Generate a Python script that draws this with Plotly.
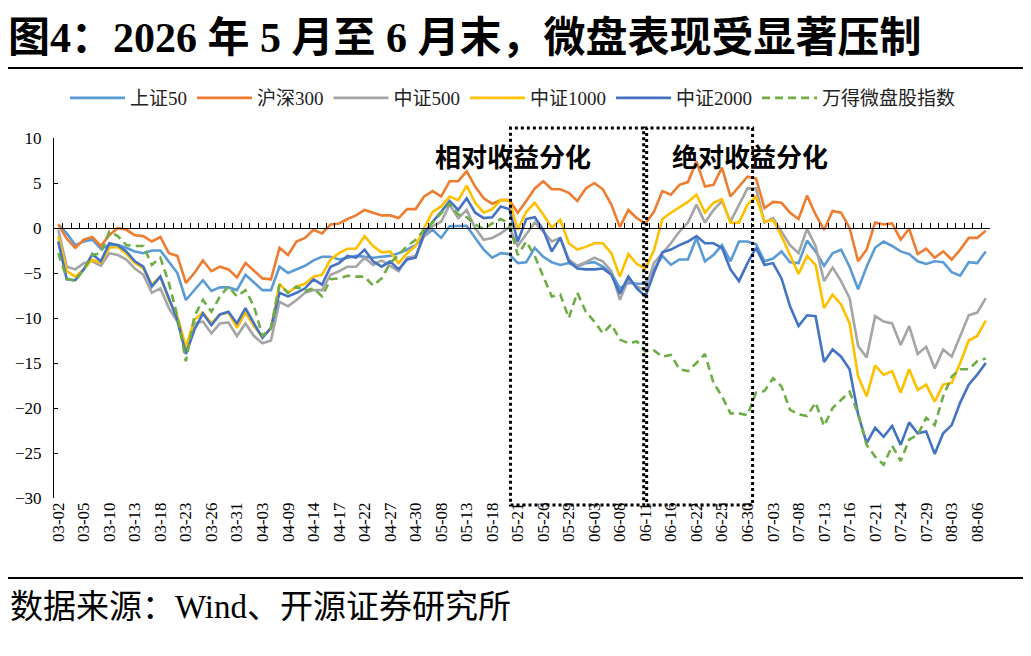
import plotly.graph_objects as go

# Trading days, 2026-03-02 to 2026-08-07
dates = [
    "03-02", "03-03", "03-04", "03-05", "03-06", "03-09", "03-10", "03-11", "03-12", "03-13",
    "03-16", "03-17", "03-18", "03-19", "03-20", "03-23", "03-24", "03-25", "03-26", "03-27",
    "03-30", "03-31", "04-01", "04-02", "04-03", "04-07", "04-08", "04-09", "04-10", "04-13",
    "04-14", "04-15", "04-16", "04-17", "04-20", "04-21", "04-22", "04-23", "04-24", "04-27",
    "04-28", "04-29", "04-30", "05-06", "05-07", "05-08", "05-11", "05-12", "05-13", "05-14",
    "05-15", "05-18", "05-19", "05-20", "05-21", "05-22", "05-25", "05-26", "05-27", "05-28",
    "05-29", "06-01", "06-02", "06-03", "06-04", "06-05", "06-08", "06-09", "06-10", "06-11",
    "06-12", "06-15", "06-16", "06-17", "06-18", "06-22", "06-23", "06-24", "06-25", "06-26",
    "06-29", "06-30", "07-01", "07-02", "07-03", "07-06", "07-07", "07-08", "07-09", "07-10",
    "07-13", "07-14", "07-15", "07-16", "07-17", "07-20", "07-21", "07-22", "07-23", "07-24",
    "07-27", "07-28", "07-29", "07-30", "07-31", "08-03", "08-04", "08-05", "08-06", "08-07",
]
tick_labels = dates[::3]

sz50 = [
    0.4, -0.6, -1.9, -1.5, -1.3, -2.3, -1.9, -1.9, -2.2, -2.6,
    -2.8, -2.5, -2.5, -3.7, -5.0, -8.0, -6.9, -5.8, -7.0, -6.6,
    -6.6, -6.9, -5.2, -6.1, -6.9, -6.9, -4.3, -5.0, -4.6, -4.2,
    -3.6, -3.2, -3.2, -3.5, -3.3, -3.1, -3.2, -3.3, -3.2, -3.1,
    -2.8, -2.4, -1.9, -0.9, -0.2, -1.1, 0.2, 0.25, 0.25, -1.1,
    -2.4, -3.3, -2.8, -2.9, -3.9, -3.8, -2.2, -3.2, -3.8, -4.1,
    -3.9, -4.3, -3.9, -3.8, -4.3, -5.0, -6.7, -6.1, -6.2, -6.2,
    -4.6, -3.1, -4.1, -3.5, -3.5, -1.1, -3.7, -3.0, -1.9, -3.7,
    -1.5, -1.5, -1.8, -3.7, -3.4, -2.6, -3.8, -3.9, -1.4, -2.6,
    -4.2, -2.8, -2.4, -4.3, -6.8, -4.3, -2.2, -1.5, -2.0, -2.6,
    -2.9, -3.7, -4.0, -3.7, -3.8, -4.9, -5.3, -3.8, -3.9, -2.6,
]
hs300 = [
    0.4, -1.2, -2.2, -1.3, -1.0, -2.0, -0.8, 0.0, -0.2, -0.8,
    -0.9, -1.5, -1.0, -2.8, -3.1, -6.1, -5.0, -3.6, -4.8, -4.3,
    -4.6, -5.5, -3.9, -4.8, -5.6, -5.7, -2.2, -3.0, -1.5, -1.1,
    -0.2, -0.6, 0.4, 0.5, 1.0, 1.4, 2.0, 1.7, 1.4, 1.4,
    1.1, 2.1, 2.1, 3.5, 4.1, 3.5, 5.2, 5.2, 6.3, 4.6,
    3.3, 2.7, 3.1, 3.1, 1.7, 3.0, 4.4, 5.2, 4.3, 4.3,
    3.9, 3.0, 4.4, 5.0, 4.3, 2.6, 0.1, 2.0, 1.1, 0.5,
    1.8, 4.1, 3.7, 4.8, 5.1, 7.4, 4.6, 4.8, 6.7, 3.5,
    4.6, 5.7, 5.5, 2.2, 2.9, 2.8, 1.7, 1.0, 3.6, 1.5,
    -0.2, 1.9, 1.7, 0.0, -3.7, -2.4, 0.6, 0.4, 0.5, -1.3,
    -0.1, -2.9, -2.3, -3.3, -2.6, -3.5, -2.4, -1.1, -1.1, -0.3,
]
zz500 = [
    -0.2, -4.3, -4.6, -3.9, -3.7, -4.2, -2.8, -3.0, -3.5, -4.5,
    -5.2, -7.2, -6.7, -8.9, -10.4, -13.7, -10.6, -10.4, -11.7, -10.6,
    -10.5, -12.0, -10.6, -12.0, -12.8, -12.5, -8.2, -8.7, -8.0, -7.2,
    -6.9, -6.9, -5.2, -4.8, -4.3, -4.3, -3.3, -4.1, -3.6, -4.2,
    -4.8, -3.3, -3.1, -0.9, 0.2, 0.7, 2.6, 1.1, 2.0, 0.0,
    -1.3, -1.1, -0.6, 0.1, -2.0, -0.7, 0.6, -0.4, -1.5, -1.1,
    -3.5, -4.2, -3.8, -3.3, -3.7, -4.8, -8.0, -5.7, -6.5, -6.9,
    -3.9, -2.8, -1.7, -0.4, 0.6, 2.6, 0.6, 2.0, 3.0, 0.7,
    2.6, 4.4, 4.4, 0.6, 1.1, -0.4, -1.9, -2.8, -0.1, -2.0,
    -5.9, -4.4, -5.9, -7.8, -13.1, -14.4, -9.8, -10.4, -10.6, -13.0,
    -10.9, -14.0, -13.2, -15.6, -13.5, -14.3, -12.0, -9.7, -9.4, -7.8,
]
zz1000 = [
    -0.9, -4.8, -5.4, -4.6, -3.5, -3.9, -2.2, -2.1, -2.9, -3.9,
    -4.5, -6.3, -5.4, -8.0, -9.8, -13.2, -10.2, -9.4, -10.6, -9.6,
    -9.4, -11.1, -9.4, -10.9, -12.1, -11.2, -6.2, -7.2, -6.5, -6.2,
    -5.4, -5.2, -3.5, -2.8, -2.3, -2.3, -0.9, -2.0, -2.7, -2.6,
    -3.9, -2.8, -2.0, 0.0, 1.8, 2.4, 3.5, 3.1, 4.7, 2.8,
    1.7, 2.1, 3.1, 3.1, -0.2, 1.8, 2.8, 1.5, 0.0, 0.9,
    -1.7, -2.4, -2.1, -1.7, -1.7, -2.8, -5.4, -2.9, -4.0, -4.5,
    -2.5, 1.0, 1.7, 2.3, 2.9, 3.7, 1.7, 2.8, 3.2, 0.6,
    0.6, 2.6, 3.5, 0.7, 0.9, -0.9, -3.0, -5.1, -3.1, -4.1,
    -8.9, -7.4, -8.5, -10.6, -16.5, -18.7, -15.3, -16.3, -15.9, -18.3,
    -15.7, -18.0, -17.4, -19.3, -17.4, -17.2, -15.0, -12.5, -12.0, -10.3,
]
zz2000 = [
    -1.5, -5.7, -5.8, -4.6, -2.9, -3.7, -1.7, -1.9, -2.6, -3.7,
    -4.3, -6.5, -5.4, -7.8, -10.2, -14.0, -11.3, -9.5, -10.8, -9.6,
    -9.3, -10.6, -8.9, -10.6, -12.2, -11.1, -7.2, -7.6, -7.2, -6.7,
    -5.7, -6.3, -4.3, -3.9, -3.1, -3.3, -2.4, -3.7, -4.3, -3.7,
    -4.6, -3.5, -3.3, -0.6, 0.7, 1.8, 3.0, 2.0, 3.3, 1.7,
    1.1, 1.2, 2.4, 2.1, -1.5, 1.0, 1.2, -0.2, -2.6, -1.1,
    -3.7, -4.5, -4.6, -4.6, -4.5, -5.2, -7.3, -5.4, -6.7, -7.6,
    -5.0, -2.7, -2.4, -1.9, -1.5, -0.9, -1.7, -1.7, -2.2, -4.6,
    -5.9, -3.9, -2.2, -4.1, -3.9, -5.6, -8.7, -10.9, -9.7, -9.8,
    -14.9, -13.5, -14.3, -15.7, -20.7, -23.9, -22.2, -23.2, -22.0, -24.1,
    -21.6, -22.8, -22.6, -25.1, -22.8, -21.9, -19.4, -17.4, -16.3, -15.0,
]
micro = [
    -2.8, -5.6, -5.9, -4.6, -3.0, -2.8, -0.4, -0.9, -1.9, -2.0,
    -2.0, -4.1, -3.3, -6.1, -9.8, -14.8, -9.8, -8.0, -9.3, -7.6,
    -6.5, -7.6, -6.9, -8.7, -12.0, -11.1, -6.3, -7.2, -6.5, -7.0,
    -6.7, -7.6, -5.7, -5.6, -5.3, -5.4, -5.4, -6.4, -5.6, -3.9,
    -3.0, -2.0, -1.3, -0.2, 0.6, 1.7, 2.7, 1.5, 1.2, 0.4,
    -0.1, 0.5, 1.0, 0.5, -3.0, -1.5, -3.1, -5.4, -7.6, -7.4,
    -10.0, -7.2, -9.3, -10.4, -11.7, -10.7, -12.4, -12.8, -12.6, -13.7,
    -13.6, -14.3, -14.1, -15.7, -15.9, -15.0, -14.0, -17.2, -18.7, -20.6,
    -20.6, -20.8, -18.3, -18.1, -16.7, -17.6, -20.2, -20.7, -20.9, -19.4,
    -22.0, -20.0, -19.1, -18.2, -20.6, -24.1, -25.4, -26.3, -24.2, -25.9,
    -23.5, -23.0, -21.1, -21.9, -18.7, -16.5, -15.7, -15.7, -14.8, -14.5,
]

series = [
    ("上证50", sz50, "#5B9BD5", "solid"),
    ("沪深300", hs300, "#ED7D31", "solid"),
    ("中证500", zz500, "#A5A5A5", "solid"),
    ("中证1000", zz1000, "#FFC000", "solid"),
    ("中证2000", zz2000, "#4472C4", "solid"),
    ("万得微盘股指数", micro, "#70AD47", "8px,5px"),
]

# page geometry in px; the page body adds an 8px margin round the figure
PAGE_W, PAGE_H, OFF = 1031, 656, 8
PLOT_L, PLOT_R, PLOT_T, PLOT_B = 54, 990, 138, 498

def px2x(px):
    return (px - PLOT_L) / (PLOT_R - PLOT_L)

def px2y(py):
    return (PLOT_B - py) / (PLOT_B - PLOT_T)

FONT = "Liberation Serif, Noto Sans CJK SC"

n = len(dates)
xmin, xmax = -0.5, n - 0.5

fig = go.Figure()
for name, vals, color, dash in series:
    fig.add_trace(go.Scatter(
        x=dates, y=vals, name=name, mode="lines",
        line=dict(color=color, width=2.6, dash=dash),
    ))

# invisible trace so the zero-line axis gets drawn
fig.add_trace(go.Scatter(x=[0], y=[0], xaxis="x2", mode="markers",
                         marker=dict(opacity=0), showlegend=False, hoverinfo="skip"))

# dotted boxes (index units)
boxes = [(53.15, 68.8), (69.15, 81.6)]
for a, b in boxes:
    fig.add_shape(type="rect", xref="x domain", yref="y domain",
                  x0=(a - xmin) / (xmax - xmin), x1=(b - xmin) / (xmax - xmin),
                  y0=px2y(505), y1=px2y(128),
                  line=dict(color="black", width=3, dash="dot"))

# rules above and below the chart
for py in (68, 578):
    fig.add_shape(type="line", xref="paper", yref="paper",
                  x0=px2x(OFF), x1=px2x(PAGE_W), y0=px2y(py), y1=px2y(py),
                  line=dict(color="black", width=2))

fig.add_annotation(x=53.4, y=7.7, text="相对收益分化", showarrow=False,
                   font=dict(family=FONT, size=26, color="black", weight="bold"))
fig.add_annotation(x=81.3, y=7.7, text="绝对收益分化", showarrow=False,
                   font=dict(family=FONT, size=26, color="black", weight="bold"))
fig.add_annotation(xref="paper", yref="paper", x=px2x(OFF), y=px2y(607),
                   xanchor="left", yanchor="middle", showarrow=False,
                   text="数据来源：Wind、开源证券研究所",
                   font=dict(family=FONT, size=33, color="black"))

fig.update_layout(
    width=PAGE_W - OFF, height=PAGE_H - OFF,
    margin=dict(l=PLOT_L - OFF, r=PAGE_W - PLOT_R, t=PLOT_T - OFF, b=PAGE_H - PLOT_B),
    paper_bgcolor="white", plot_bgcolor="white",
    title=dict(text="图4：2026 年 5 月至 6 月末，微盘表现受显著压制",
               x=0, xanchor="left", xref="container",
               y=1 - (37 - OFF) / (PAGE_H - OFF), yanchor="middle", yref="container",
               font=dict(family=FONT, size=42, color="black", weight="bold")),
    legend=dict(orientation="h", x=px2x(513), xanchor="center",
                y=px2y(98), yanchor="middle",
                font=dict(family=FONT, size=19, color="#222"),
                itemwidth=55, bgcolor="rgba(0,0,0,0)"),
    xaxis=dict(type="category", range=[xmin, xmax],
               tickmode="array", tickvals=tick_labels, ticktext=tick_labels,
               tickangle=-90, ticks="", showline=False, showgrid=False,
               zeroline=False, automargin=False,
               tickfont=dict(family=FONT, size=17, color="black")),
    xaxis2=dict(overlaying="x", anchor="free", position=0.75,
                range=[xmin, xmax], tick0=xmin, dtick=1,
                ticks="inside", ticklen=5, tickcolor="black", tickwidth=1,
                showticklabels=False, showline=True, linecolor="black",
                linewidth=1, showgrid=False, zeroline=False, automargin=False),
    yaxis=dict(range=[-30, 10], dtick=5, ticks="inside", ticklen=4,
               tickcolor="black", showline=True, linecolor="black",
               linewidth=1, showgrid=False, zeroline=False,
               ticklabelstandoff=8, automargin=False,
               tickfont=dict(family=FONT, size=17, color="black")),
    showlegend=True,
)

fig.write_html("out.html")
